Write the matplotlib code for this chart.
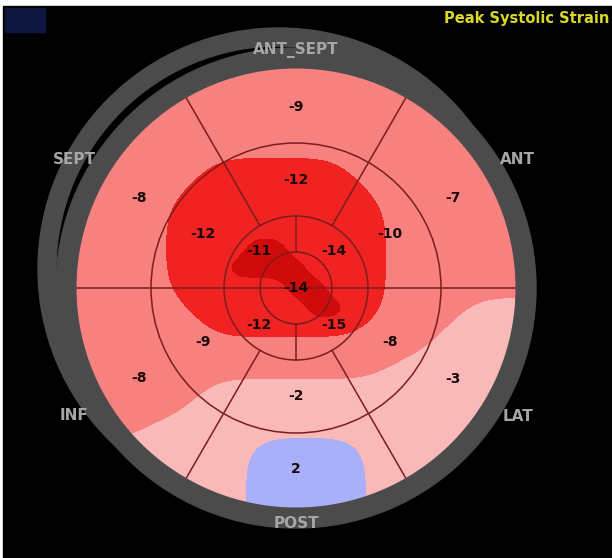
import numpy as np
import matplotlib
matplotlib.use('Agg')
import matplotlib.pyplot as plt
from matplotlib.patches import Circle, Annulus, Rectangle
from matplotlib.colors import ListedColormap, BoundaryNorm

plt.rcParams['font.family'] = ['DejaVu Sans']

# wall names and peak systolic strain (%) per segment
walls = ['ANT_SEPT', 'ANT', 'LAT', 'POST', 'INF', 'SEPT']
wall_angles = [90, 30, 330, 270, 210, 150]
basal = [-9, -7, -3, 2, -8, -8]
mid = [-12, -10, -8, -2, -9, -12]
apical_angles = [45, 315, 225, 135]
apical = [-14, -15, -12, -11]
apex = -14

# strain map on a 20 px grid (D <= -15, R -15..-10, S -10..-5, P -5..0, B > 0)
strain_map = [
    "SSSSSSSSSSSSSSSSSSSSSSS",
    "SSSSSSSSSSSSSSSSSSSSSSS",
    "SSSSSSSSSSSSSSSSSSSSSSS",
    "SSSSSSSSSSSSSSSSSSSSSSS",
    "SSSSSSSSSSSSSSSSSSSSSSS",
    "SSSSSSSRRRRRRRSSSSSSSSS",
    "SSSSSSRRRRRRRRRSSSSSSSS",
    "SSSSSRRRRRRRRRRRSSSSSSS",
    "SSSSSRRRRRRRRRRRSSSSSSS",
    "SSSSSRRRRDDRRRRRSSSSSSS",
    "SSSSSRRRDDDDRRRRSSSSSSS",
    "SSSSSRRRRRRDDRRRSSSSSSS",
    "SSSSSSRRRRRRDDRRSSSSPPP",
    "SSSSSSSRRRRRRRRSSSSPPPP",
    "SSSSSSSSSSSSSSSSSSPPPPP",
    "SSSSSSSSSSSSSSSSPPPPPPP",
    "SSSSSSSPPPPPPPPPPPPPPPP",
    "SSSSSSPPPPPPPPPPPPPPPPP",
    "SSSSPPPPPPPPPPPPPPPPPPP",
    "PPPPPPPPPBBBBBBPPPPPPPP",
    "PPPPPPPPPBBBBBBPPPPPPPP",
    "PPPPPPPPPBBBBBBPPPPPPPP",
    "PPPPPPPPPBBBBBBPPPPPPPP",
]
class_strain = {'D': -18.0, 'R': -12.5, 'S': -7.5, 'P': -2.5, 'B': 2.5}
strain_bounds = [-25, -15, -10, -5, 0, 10]
strain_colors = ['#cf0b0b', '#f12222', '#f6817f', '#f9b9b9', '#a9aff9']

field = np.array([[class_strain[c] for c in row] for row in strain_map])
dark = field <= strain_bounds[1]


def smooth(a, sigma):
    # separable gaussian blur so the level borders come out rounded
    r = int(3 * sigma)
    k = np.exp(-0.5 * (np.arange(-r, r + 1) / sigma) ** 2)
    k /= k.sum()
    p = np.pad(a, r, mode='edge')
    p = np.apply_along_axis(lambda m: np.convolve(m, k, mode='valid'), 0, p)
    p = np.apply_along_axis(lambda m: np.convolve(m, k, mode='valid'), 1, p)
    return p


up = np.ones((4, 4))
base = smooth(np.kron(np.where(dark, class_strain['R'], field), up), 4.0)
core = smooth(np.kron(dark.astype(float), up), 2.0)

cx, cy = 296, 288
r_apex, r_apical, r_mid, r_base = 36, 72, 145, 219
line_c = '#7d1c1c'
gray = '#4b4b4b'
extent = (66, 526, 518, 58)


def pt(r, a):
    return cx + r * np.cos(np.radians(a)), cy - r * np.sin(np.radians(a))


fig = plt.figure(figsize=(6.12, 5.58), dpi=100, facecolor='white')
ax = fig.add_axes([0, 0, 1, 1])
ax.set_xlim(0, 612)
ax.set_ylim(558, 0)
ax.axis('off')

ax.add_patch(Rectangle((3, 6), 609, 552, color='black', zorder=0))
ax.add_patch(Rectangle((5, 8), 40, 24, color='#0e1640', zorder=1))

# wall rings
ax.add_patch(Annulus((279, 269), 241, 18, color=gray, zorder=1))
ax.add_patch(Annulus((cx, cy), 240, 21, color=gray, zorder=2))

disc = Circle((cx, cy), r_base + 0.5, fc='none', ec='none')
ax.add_patch(disc)
im = ax.imshow(base, cmap=ListedColormap(strain_colors),
               norm=BoundaryNorm(strain_bounds, len(strain_colors)),
               extent=extent, origin='upper',
               interpolation='bilinear', interpolation_stage='data', zorder=3)
im.set_clip_path(disc)
im2 = ax.imshow(core, cmap=ListedColormap(['none', strain_colors[0]]),
                norm=BoundaryNorm([-1, 0.5, 2], 2),
                extent=extent, origin='upper',
                interpolation='bilinear', interpolation_stage='data', zorder=3.5)
im2.set_clip_path(disc)

# segment borders
for r in (r_apex, r_apical, r_mid):
    ax.add_patch(Circle((cx, cy), r, fill=False, ec=line_c, lw=1.1, zorder=4))
ax.plot([cx - r_base, cx + r_base], [cy, cy], color=line_c, lw=1.1, zorder=4)
for a in (60, 120, 240, 300):
    x0, y0 = pt(r_apical, a)
    x1, y1 = pt(r_base, a)
    ax.plot([x0, x1], [y0, y1], color=line_c, lw=1.1, zorder=4)
for a in (90, 270):
    x0, y0 = pt(r_apex, a)
    x1, y1 = pt(r_apical, a)
    ax.plot([x0, x1], [y0, y1], color=line_c, lw=1.1, zorder=4)

# segment values
num_kw = dict(ha='center', va='center', fontsize=10, fontweight='bold',
              color='#1a0808', zorder=5)
for a, v in zip(wall_angles, basal):
    ax.text(*pt(181, a), f'{v}', **num_kw)
for a, v in zip(wall_angles, mid):
    ax.text(*pt(108, a), f'{v}', **num_kw)
for a, v in zip(apical_angles, apical):
    ax.text(*pt(53, a), f'{v}', **num_kw)
ax.text(cx, cy, f'{apex}', **num_kw)

# wall names
label_r = [238, 256, 256, 235, 256, 256]
for name, a, r in zip(walls, wall_angles, label_r):
    ax.text(*pt(r, a), name, ha='center', va='center', fontsize=11,
            fontweight='bold', color='#a6a6a6', zorder=6)

ax.text(609, 19, 'Peak Systolic Strain', ha='right', va='center',
        fontsize=10.5, fontweight='bold', color='#d9d925', zorder=6)

fig.savefig('out.png', dpi=100, facecolor='white')
